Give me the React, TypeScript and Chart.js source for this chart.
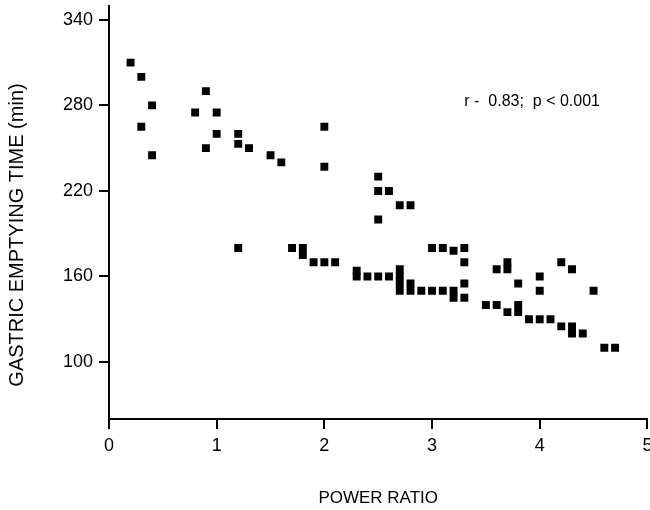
import React, { useEffect, useRef } from "react";
import { Chart, registerables } from "chart.js";

Chart.register(...registerables);

// Power ratio (x) and gastric emptying time in minutes (y) for each subject
const powerRatio = [
  0.2, 0.3, 0.4, 0.3, 0.4,
  0.9, 0.8, 1.0, 1.0, 0.9,
  1.2, 1.2, 1.3, 1.5, 1.6,
  2.0, 2.0,
  2.5, 2.5, 2.6, 2.7, 2.8, 2.5,
  1.2, 1.7, 1.8, 1.8, 1.9, 2.0, 2.1,
  2.3, 2.3, 2.4, 2.5, 2.6,
  2.7, 2.7, 2.7, 2.7,
  2.8, 2.8, 2.9, 3.0, 3.1,
  3.0, 3.1, 3.2, 3.3, 3.3, 3.3,
  3.2, 3.2, 3.3,
  3.5, 3.6, 3.6, 3.7, 3.7, 3.8,
  4.0, 4.0, 4.2, 4.3, 4.5,
  3.7, 3.8, 3.8, 3.9, 4.0, 4.1,
  4.2, 4.3, 4.3, 4.4, 4.6, 4.7,
];
const emptyingTime = [
  310, 300, 280, 265, 245,
  290, 275, 275, 260, 250,
  260, 253, 250, 245, 240,
  265, 237,
  230, 220, 220, 210, 210, 200,
  180, 180, 180, 175, 170, 170, 170,
  164, 160, 160, 160, 160,
  165, 160, 155, 150,
  155, 150, 150, 150, 150,
  180, 180, 178, 180, 170, 155,
  150, 145, 145,
  140, 140, 165, 170, 165, 155,
  160, 150, 170, 165, 150,
  135, 140, 135, 130, 130, 130,
  125, 125, 120, 120, 110, 110,
];

const xTicks = [0, 1, 2, 3, 4, 5];
const yTicks = [100, 160, 220, 280, 340];
const xTitle = "POWER RATIO";
const yTitle = "GASTRIC EMPTYING TIME (min)";
const statText = "r -  0.83;  p < 0.001";
const statAt = { x: 3.3, y: 282.5 };

const FONT = "'Liberation Sans', Arial, Helvetica, sans-serif";

export default function App() {
  const ref = useRef<HTMLCanvasElement>(null);

  useEffect(() => {
    if (!ref.current) return;

    const textPlugin = {
      id: "extraTexts",
      afterDraw(chart: any) {
        const ctx = chart.ctx as CanvasRenderingContext2D;
        ctx.save();
        ctx.fillStyle = "#000";
        // y axis title
        ctx.font = `20px ${FONT}`;
        ctx.textAlign = "center";
        ctx.textBaseline = "middle";
        ctx.translate(17.5, 235);
        ctx.rotate(-Math.PI / 2);
        ctx.fillText(yTitle, 0, 0);
        ctx.restore();

        // statistics annotation
        ctx.save();
        ctx.fillStyle = "#000";
        ctx.font = `16px ${FONT}`;
        ctx.textAlign = "left";
        ctx.textBaseline = "middle";
        const px = chart.scales.x.getPixelForValue(statAt.x);
        const py = chart.scales.y.getPixelForValue(statAt.y);
        ctx.fillText(statText, px, py);
        ctx.restore();
      },
    };

    const chart = new Chart(ref.current, {
      type: "scatter",
      data: {
        datasets: [
          {
            data: powerRatio.map((x, i) => ({ x, y: emptyingTime[i] })),
            pointStyle: "rect",
            pointRadius: 5.6,
            pointHoverRadius: 5.6,
            backgroundColor: "#000",
            borderColor: "#000",
            borderWidth: 0,
          },
        ],
      },
      options: {
        animation: false,
        responsive: false,
        devicePixelRatio: 1,
        layout: { padding: { top: 5, right: 0, left: 0, bottom: 0 } },
        plugins: {
          legend: { display: false },
          tooltip: { enabled: false },
        },
        scales: {
          x: {
            type: "linear",
            min: 0,
            max: 5,
            afterBuildTicks: (s: any) => {
              s.ticks = xTicks.map((v) => ({ value: v }));
            },
            ticks: {
              color: "#000",
              font: { family: FONT, size: 18 },
              padding: 6,
              maxRotation: 0,
            },
            grid: {
              drawOnChartArea: false,
              drawTicks: true,
              tickLength: 10,
              color: "#000",
              lineWidth: 2,
            },
            border: { display: true, color: "#000", width: 2 },
            title: {
              display: true,
              text: xTitle,
              color: "#000",
              font: { family: FONT, size: 17 },
              padding: { top: 0, bottom: 1 },
            },
            afterFit: (s: any) => {
              s.height = 91;
              s.paddingLeft = 0;
              s.paddingRight = 0;
            },
          },
          y: {
            type: "linear",
            min: 60,
            max: 350,
            afterBuildTicks: (s: any) => {
              s.ticks = yTicks.map((v) => ({ value: v }));
            },
            ticks: {
              color: "#000",
              font: { family: FONT, size: 18 },
              padding: 6,
            },
            grid: {
              drawOnChartArea: false,
              drawTicks: true,
              tickLength: 10,
              color: "#000",
              lineWidth: 2,
            },
            border: { display: true, color: "#000", width: 2 },
            title: { display: false },
            afterFit: (s: any) => {
              s.width = 109;
              s.paddingTop = 0;
              s.paddingBottom = 0;
            },
          },
        },
      },
      plugins: [textPlugin],
    } as any);

    return () => chart.destroy();
  }, []);

  return (
    <div
      style={{
        position: "absolute",
        left: 0,
        top: 0,
        width: 650,
        height: 510,
        overflow: "hidden",
        background: "#fff",
      }}
    >
      <canvas ref={ref} width={653} height={510} style={{ display: "block", width: 653, height: 510 }} />
    </div>
  );
}
